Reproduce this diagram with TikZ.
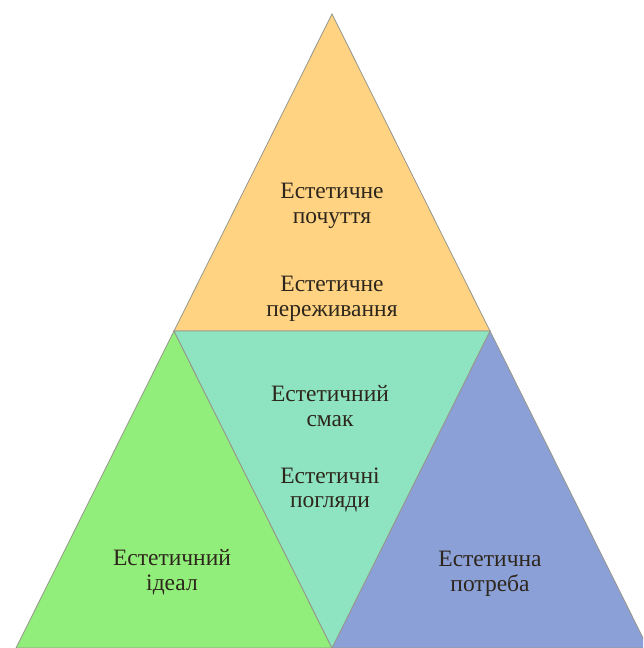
\documentclass[tikz,border=0pt]{standalone}
\usepackage{fontspec}
\setmainfont{Liberation Serif}
\definecolor{topfill}{RGB}{255,211,130}
\definecolor{midfill}{RGB}{142,228,192}
\definecolor{leftfill}{RGB}{146,238,122}
\definecolor{rightfill}{RGB}{140,160,216}
\definecolor{edge}{RGB}{150,150,140}
\definecolor{txt}{RGB}{45,38,28}
\begin{document}
\begin{tikzpicture}[x=1pt,y=-1pt,
  part/.style={draw=edge,line width=0.8pt,line join=miter},
  lbl/.style={align=center,text=txt,font=\rmfamily\fontsize{23.5}{24.5}\selectfont,inner sep=0pt}]
\useasboundingbox (0,0) rectangle (643,648);
\fill[white] (0,0) rectangle (643,648);
\coordinate (A) at (332,14);
\coordinate (L) at (174,331);
\coordinate (R) at (490,331);
\coordinate (BL) at (16,648);
\coordinate (BR) at (648,648);
\coordinate (B) at (332,648);
\begin{scope}
\clip (0,0) rectangle (643,648);
\filldraw[part,fill=topfill] (A) -- (L) -- (R) -- cycle;
\filldraw[part,fill=leftfill] (L) -- (B) -- (BL) -- cycle;
\filldraw[part,fill=rightfill] (R) -- (BR) -- (B) -- cycle;
\filldraw[part,fill=midfill] (L) -- (R) -- (B) -- cycle;
\end{scope}
\node[lbl] (t1) at (332,206) {Естетичне\\почуття};
\node[lbl] (t2) at (332,299) {Естетичне\\переживання};
\node[lbl] (m1) at (330,406) {Естетичний\\смак};
\node[lbl] (m2) at (330,490) {Естетичні\\погляди};
\node[lbl] (l1) at (172,572) {Естетичний\\ідеал};
\node[lbl] (r1) at (490,574) {Естетична\\потреба};
\end{tikzpicture}
\end{document}
